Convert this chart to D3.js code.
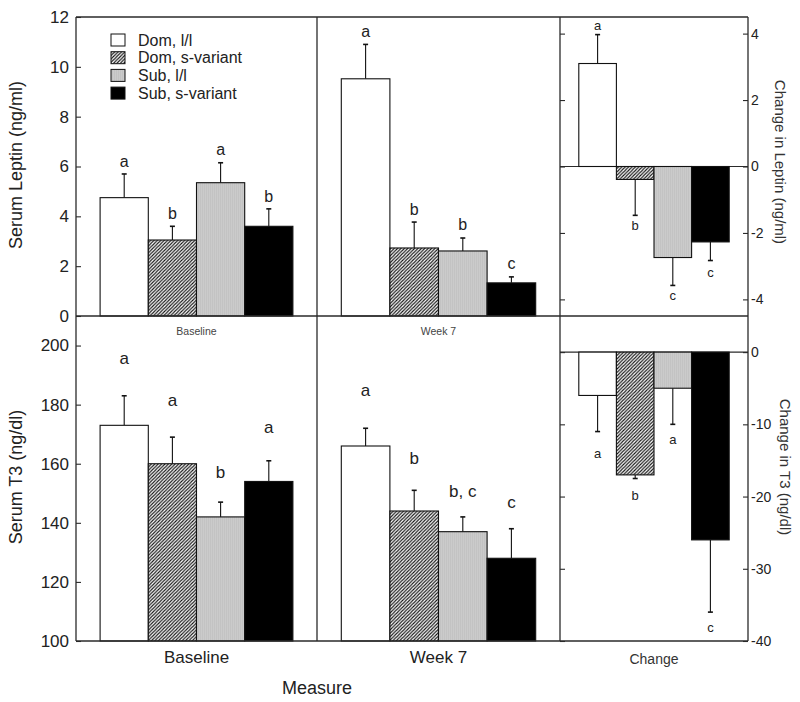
<!DOCTYPE html>
<html><head><meta charset="utf-8">
<script src="https://cdn.jsdelivr.net/npm/d3@7"></script>
<style>body{margin:0;background:#fff}svg{display:block;font-family:"Liberation Sans",Arial,sans-serif}</style>
</head><body><svg id="c" width="800" height="702"></svg>
<script>
// ---- data ----
const groups = ["Dom, l/l", "Dom, s-variant", "Sub, l/l", "Sub, s-variant"];
const leptinBaseline = [4.75, 3.05, 5.35, 3.6];
const leptinBaselineErr = [0.95, 0.55, 0.8, 0.7];
const leptinBaselineLetters = ["a", "b", "a", "b"];
const leptinWeek7 = [9.52, 2.73, 2.61, 1.33];
const leptinWeek7Err = [1.38, 1.04, 0.52, 0.24];
const leptinWeek7Letters = ["a", "b", "b", "c"];
const leptinChange = [3.1, -0.39, -2.74, -2.27];
const leptinChangeErr = [0.87, 1.08, 0.84, 0.56];
const leptinChangeLetters = ["a", "b", "c", "c"];
const t3Baseline = [173, 160, 142, 154];
const t3BaselineErr = [10, 9, 5, 7];
const t3BaselineLetters = ["a", "a", "b", "a"];
const t3Week7 = [166, 144, 137, 128];
const t3Week7Err = [6, 7, 5, 10];
const t3Week7Letters = ["a", "b", "b, c", "c"];
const t3Change = [-6, -17, -5, -26];
const t3ChangeErr = [5, 0.5, 5, 10];
const t3ChangeLetters = ["a", "b", "a", "c"];
const leptinTicks = [0, 2, 4, 6, 8, 10, 12];
const leptinChangeTicks = [-4, -2, 0, 2, 4];
const t3Ticks = [100, 120, 140, 160, 180, 200];
const t3ChangeTicks = [-40, -30, -20, -10, 0];

// ---- drawing ----
const svg = d3.select("#c");
const defs = svg.append("defs");
const HS = 3.4;
const hp = defs.append("pattern").attr("id", "hatch").attr("patternUnits", "userSpaceOnUse")
  .attr("width", HS).attr("height", HS);
hp.append("rect").attr("width", HS).attr("height", HS).attr("fill", "#fff");
hp.append("path").attr("d", `M-1,1 L1,-1 M0,${HS} L${HS},0 M${HS - 1},${HS + 1} L${HS + 1},${HS - 1}`)
  .attr("stroke", "#111").attr("stroke-width", 1.1);
const gp = defs.append("pattern").attr("id", "grayp").attr("patternUnits", "userSpaceOnUse")
  .attr("width", 2).attr("height", 4);
gp.append("rect").attr("width", 2).attr("height", 4).attr("fill", "#cbcbcb");
gp.append("rect").attr("width", 1).attr("height", 4).attr("fill", "#c3c3c3");

const fills = ["#ffffff", "url(#hatch)", "url(#grayp)", "#000000"];
const frameColor = "#2a2a2a";

const X = [76, 317, 560, 748];
const Y = [17, 316, 641];

function panel(opt) {
  const x0 = opt.x0, x1 = opt.x1, w = x1 - x0;
  const xs = d3.scaleBand().domain(groups).range([x0 + 0.1 * w, x1 - 0.1 * w]).paddingInner(0);
  const ys = d3.scaleLinear().domain(opt.domain).range([opt.y1, opt.y0]);
  const g = svg.append("g");
  const base = opt.base;
  if (opt.zero) {
    g.append("line").attr("x1", x0).attr("x2", x1).attr("y1", ys(0)).attr("y2", ys(0))
      .attr("stroke", frameColor).attr("stroke-width", 1.2);
  }
  const d = groups.map((k, i) => ({k, i, v: opt.vals[i], e: opt.errs[i], l: opt.letters[i]}));
  d.forEach(p => {
    const dir = p.v >= base ? 1 : -1;
    const end = p.v + dir * p.e;
    const cx = xs(p.k) + xs.bandwidth() / 2;
    g.append("line").attr("x1", cx).attr("x2", cx).attr("y1", ys(p.v)).attr("y2", ys(end))
      .attr("stroke", "#111").attr("stroke-width", 1.1);
    g.append("line").attr("x1", cx - 2.5).attr("x2", cx + 2.5).attr("y1", ys(end)).attr("y2", ys(end))
      .attr("stroke", "#111").attr("stroke-width", 1.6);
    const ty = dir > 0 ? ys(end) - opt.gapUp[p.i] : ys(end) + opt.gapDown[p.i];
    g.append("text").attr("x", cx).attr("y", ty).attr("text-anchor", "middle")
      .attr("font-size", opt.letterSize).attr("fill", "#222").text(p.l);
  });
  g.selectAll("rect.bar").data(d).join("rect").attr("class", "bar")
    .attr("x", p => xs(p.k)).attr("width", xs.bandwidth())
    .attr("y", p => Math.min(ys(p.v), ys(base)))
    .attr("height", p => Math.abs(ys(p.v) - ys(base)))
    .attr("fill", p => fills[p.i]).attr("stroke", "#111").attr("stroke-width", 1.1);
  return {xs, ys, g};
}

const pTL = panel({x0: X[0], x1: X[1], y0: Y[0], y1: Y[1], domain: [0, 12], base: 0,
  vals: leptinBaseline, errs: leptinBaselineErr, letters: leptinBaselineLetters,
  gapUp: [7, 7, 8, 7], gapDown: [0, 0, 0, 0], letterSize: 16});
const pTM = panel({x0: X[1], x1: X[2], y0: Y[0], y1: Y[1], domain: [0, 12], base: 0,
  vals: leptinWeek7, errs: leptinWeek7Err, letters: leptinWeek7Letters,
  gapUp: [7, 7, 8, 8], gapDown: [0, 0, 0, 0], letterSize: 16});
const pTR = panel({x0: X[2], x1: X[3], y0: Y[0], y1: Y[1], domain: [-4.5, 4.5], base: 0, zero: true,
  vals: leptinChange, errs: leptinChangeErr, letters: leptinChangeLetters,
  gapUp: [5, 5, 5, 5], gapDown: [15, 15, 15, 16], letterSize: 13});
const pBL = panel({x0: X[0], x1: X[1], y0: Y[1], y1: Y[2], domain: [100, 210], base: 100,
  vals: t3Baseline, errs: t3BaselineErr, letters: t3BaselineLetters,
  gapUp: [32, 31, 24, 28], gapDown: [0, 0, 0, 0], letterSize: 17});
const pBM = panel({x0: X[1], x1: X[2], y0: Y[1], y1: Y[2], domain: [100, 210], base: 100,
  vals: t3Week7, errs: t3Week7Err, letters: t3Week7Letters,
  gapUp: [32, 26, 20, 21], gapDown: [0, 0, 0, 0], letterSize: 17});
const pBR = panel({x0: X[2], x1: X[3], y0: Y[1], y1: Y[2], domain: [-40, 5], base: 0, zero: true,
  vals: t3Change, errs: t3ChangeErr, letters: t3ChangeLetters,
  gapUp: [0, 0, 0, 0], gapDown: [26, 21, 20, 20], letterSize: 13});

function styleAxis(sel, size) {
  sel.select(".domain").remove();
  sel.selectAll(".tick line").attr("stroke", frameColor).attr("stroke-width", 1.1);
  sel.selectAll(".tick text").attr("font-size", size).attr("fill", "#222")
    .attr("font-family", '"Liberation Sans",Arial,sans-serif');
}
const fmt = d => String(d);
svg.append("g").attr("transform", `translate(${X[0]},0)`)
  .call(d3.axisLeft(pTL.ys).tickValues(leptinTicks).tickFormat(fmt).tickSize(-5).tickPadding(7))
  .call(s => styleAxis(s, 17));
svg.append("g").attr("transform", `translate(${X[0]},0)`)
  .call(d3.axisLeft(pBL.ys).tickValues(t3Ticks).tickFormat(fmt).tickSize(-5).tickPadding(7))
  .call(s => styleAxis(s, 17));
svg.append("g").attr("transform", `translate(${X[3]},0)`)
  .call(d3.axisRight(pTR.ys).tickValues(leptinChangeTicks).tickFormat(fmt).tickSize(-5).tickPadding(3))
  .call(s => styleAxis(s, 14));
svg.append("g").attr("transform", `translate(${X[3]},0)`)
  .call(d3.axisRight(pBR.ys).tickValues(t3ChangeTicks).tickFormat(fmt).tickSize(-5).tickPadding(3))
  .call(s => styleAxis(s, 14));
svg.append("g").attr("transform", `translate(${X[2]},0)`)
  .call(d3.axisLeft(pTR.ys).tickValues(leptinChangeTicks).tickSize(-5).tickFormat(""))
  .call(s => styleAxis(s, 14));
svg.append("g").attr("transform", `translate(${X[2]},0)`)
  .call(d3.axisLeft(pBR.ys).tickValues(t3ChangeTicks).tickSize(-5).tickFormat(""))
  .call(s => styleAxis(s, 14));

const fr = svg.append("g").attr("stroke", frameColor).attr("stroke-width", 1.3).attr("fill", "none");
Y.forEach(y => fr.append("line").attr("x1", X[0]).attr("x2", X[3]).attr("y1", y).attr("y2", y));
X.forEach(x => fr.append("line").attr("x1", x).attr("x2", x).attr("y1", Y[0]).attr("y2", Y[2]));

const T = (x, y, s, size, opts = {}) => svg.append("text").attr("x", x).attr("y", y)
  .attr("text-anchor", opts.anchor || "middle").attr("font-size", size)
  .attr("fill", opts.fill || "#222").attr("transform", opts.rot ? `rotate(${opts.rot},${x},${y})` : null).text(s);

T((X[0] + X[1]) / 2, 335, "Baseline", 10.5, {fill: "#444"});
T((X[1] + X[2]) / 2, 335, "Week 7", 10.5, {fill: "#444"});
T((X[0] + X[1]) / 2, 663, "Baseline", 17);
T((X[1] + X[2]) / 2, 663, "Week 7", 17);
T((X[2] + X[3]) / 2, 664, "Change", 14, {fill: "#333"});
T(317, 694, "Measure", 18);
T(22, 165, "Serum Leptin (ng/ml)", 18, {rot: -90});
T(22, 477, "Serum T3 (ng/dl)", 18, {rot: -90});
T(775, 162, "Change in Leptin (ng/ml)", 15, {rot: 90, fill: "#333"});
T(780, 467, "Change in T3 (ng/dl)", 15, {rot: 90, fill: "#333"});

const lg = svg.append("g");
groups.forEach((k, i) => {
  const y = 34 + i * 17.7;
  lg.append("rect").attr("x", 111).attr("y", y).attr("width", 14).attr("height", 12)
    .attr("fill", fills[i]).attr("stroke", "#111").attr("stroke-width", 1);
  lg.append("text").attr("x", 138).attr("y", y + 11.5).attr("font-size", 16).attr("fill", "#222").text(k);
});
</script></body></html>
